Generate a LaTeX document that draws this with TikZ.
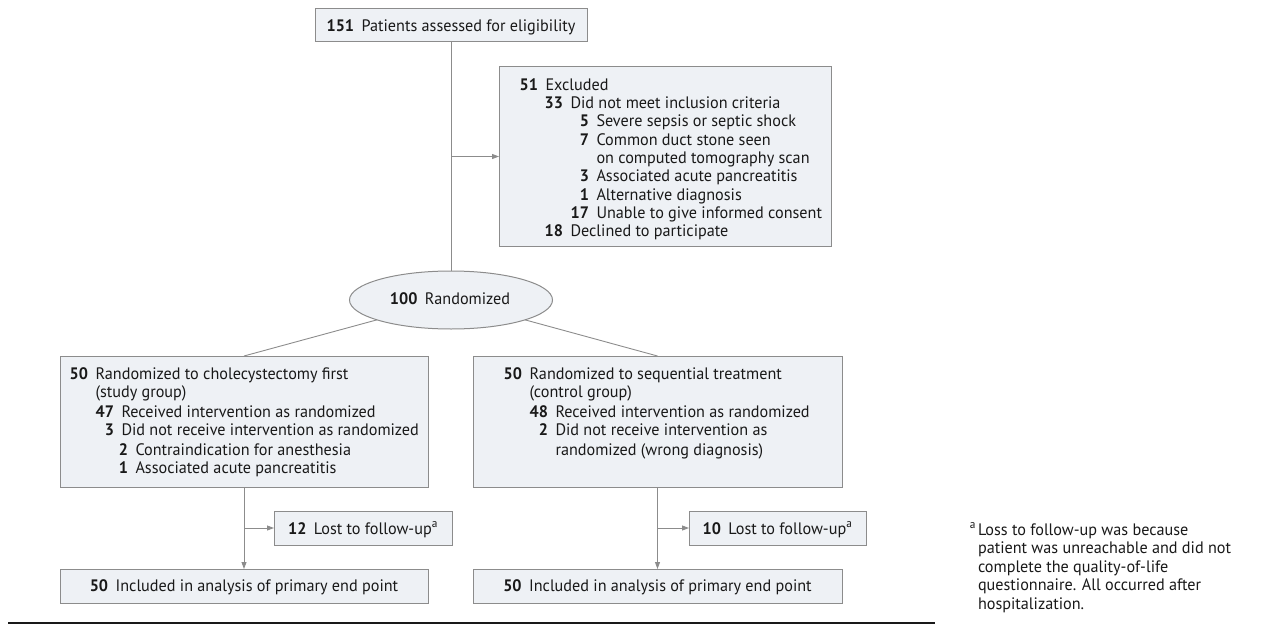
\documentclass[tikz,border=0pt]{standalone}
\usepackage{fontspec}
\setmainfont{PT Sans}[FakeStretch=0.975]
\usetikzlibrary{shapes.geometric,arrows.meta}
\definecolor{boxfill}{RGB}{238,241,245}
\definecolor{boxline}{RGB}{140,140,140}
\definecolor{conn}{RGB}{140,140,140}
\definecolor{ink}{RGB}{25,25,25}
\tikzset{
  box/.style={draw=boxline, fill=boxfill, line width=1pt, rectangle, inner sep=0pt, outer sep=0pt, anchor=north west},
  oval/.style={draw=boxline, fill=boxfill, line width=1pt, ellipse, inner sep=0pt, outer sep=0pt},
  txt/.style={font=\fontsize{16.6}{18}\selectfont, text=ink, inner sep=0pt, outer sep=0pt},
  numsty/.style={txt, font=\fontsize{16.6}{18}\selectfont\bfseries},
  conline/.style={draw=conn, line width=0.9pt},
  conarrow/.style={conline, -{Triangle[length=7pt,width=5pt]}},
}
\newcommand\entryrow[5]{%
  \node[numsty, anchor=base east] (#1n) at (#2,#3) {#4};
  \node[txt, anchor=base west] (#1t) at ([xshift=7.5pt]#1n.base east) {#5};}
\begin{document}
\begin{tikzpicture}[x=1pt,y=-1pt]
\useasboundingbox (0,0) rectangle (1263,626);
% boxes
\node[box, minimum width=272pt, minimum height=33pt] (top) at (315,9) {};
\node[box, minimum width=332pt, minimum height=179pt] (excl) at (499,67) {};
\node[oval, minimum width=203pt, minimum height=58pt] (rand) at (451,300) {};
\node[box, minimum width=368pt, minimum height=131pt] (lbox) at (60,356) {};
\node[box, minimum width=369pt, minimum height=131pt] (rbox) at (473,356) {};
\node[box, minimum width=178pt, minimum height=34pt] (llost) at (274,511) {};
\node[box, minimum width=177pt, minimum height=34pt] (rlost) at (689,511) {};
\node[box, minimum width=368pt, minimum height=34pt] (lend) at (60,569) {};
\node[box, minimum width=369pt, minimum height=34pt] (rend) at (473,569) {};
% connectors
\coordinate (b1) at (top.south |- excl.west);
\draw[conline] (top.south) -- (rand.north);
\draw[conarrow] (b1) -- (excl.west);
\draw[conline] (rand.195) -- (lbox.north);
\draw[conline] (rand.-15) -- (rbox.north);
\draw[conarrow] (lbox.south) -- (lend.north);
\coordinate (b2) at (lbox.south |- llost.west);
\draw[conarrow] (b2) -- (llost.west);
\draw[conarrow] (rbox.south) -- (rend.north);
\coordinate (b3) at (rbox.south |- rlost.west);
\draw[conarrow] (b3) -- (rlost.west);
% top text
\node[txt, anchor=base] (toptext) at (451,32) {\textbf{151}\hspace{7.5pt}Patients assessed for eligibility};
% excluded
\entryrow{e1}{538}{90}{51}{Excluded}
\entryrow{e2}{563}{108.3}{33}{Did not meet inclusion criteria}
\entryrow{e3}{589}{126.7}{5}{Severe sepsis or septic shock}
\entryrow{e4}{589}{145}{7}{Common duct stone seen}
\node[txt, anchor=base west] (e4b) at (e4t.base west |- 0,163.3) {on computed tomography scan};
\entryrow{e5}{589}{181.7}{3}{Associated acute pancreatitis}
\entryrow{e6}{589}{200}{1}{Alternative diagnosis}
\entryrow{e7}{589}{218.3}{17}{Unable to give informed consent}
\entryrow{e8}{563}{236.7}{18}{Declined to participate}
% randomized
\node[txt, anchor=base] (randtext) at (450,304) {\textbf{100}\hspace{7.5pt}Randomized};
% left box
\entryrow{l1}{88}{379}{50}{Randomized to cholecystectomy first}
\node[txt, anchor=base west] (l1b) at (l1t.base west |- 0,397.5) {(study group)};
\entryrow{l2}{114}{417}{47}{Received intervention as randomized}
\entryrow{l3}{114}{435.5}{3}{Did not receive intervention as randomized}
\entryrow{l4}{128}{455}{2}{Contraindication for anesthesia}
\entryrow{l5}{128}{473.5}{1}{Associated acute pancreatitis}
% right box
\entryrow{r1}{522}{379}{50}{Randomized to sequential treatment}
\node[txt, anchor=base west] (r1b) at (r1t.base west |- 0,397.5) {(control group)};
\entryrow{r2}{548}{417}{48}{Received intervention as randomized}
\entryrow{r3}{548}{435.5}{2}{Did not receive intervention as}
\node[txt, anchor=base west] (r3b) at (r3t.base west |- 0,455) {randomized (wrong diagnosis)};
% lost
\node[txt, anchor=base] (llosttext) at (363,534) {\textbf{12}\hspace{7.5pt}Lost to follow-up\textsuperscript{a}};
\node[txt, anchor=base] (rlosttext) at (777.5,534) {\textbf{10}\hspace{7.5pt}Lost to follow-up\textsuperscript{a}};
% end
\node[txt, anchor=base] (lendtext) at (244,591) {\textbf{50}\hspace{7.5pt}Included in analysis of primary end point};
\node[txt, anchor=base] (rendtext) at (657.5,591) {\textbf{50}\hspace{7.5pt}Included in analysis of primary end point};
% rule
\coordinate (r1) at (8,623);
\coordinate (r2) at (935,623);
\draw[draw=ink, line width=2pt] (r1) -- (r2);
% footnote
\node[txt, anchor=base east] (fa) at (976,535) {\textsuperscript{a}};
\node[txt, anchor=base west] (f1) at (978,535) {Loss to follow-up was because};
\node[txt, anchor=base west] (f2) at (978,553.5) {patient was unreachable and did not};
\node[txt, anchor=base west] (f3) at (978,572) {complete the quality-of-life};
\node[txt, anchor=base west] (f4) at (978,590.5) {questionnaire. All occurred after};
\node[txt, anchor=base west] (f5) at (978,609) {hospitalization.};
\end{tikzpicture}
\end{document}
